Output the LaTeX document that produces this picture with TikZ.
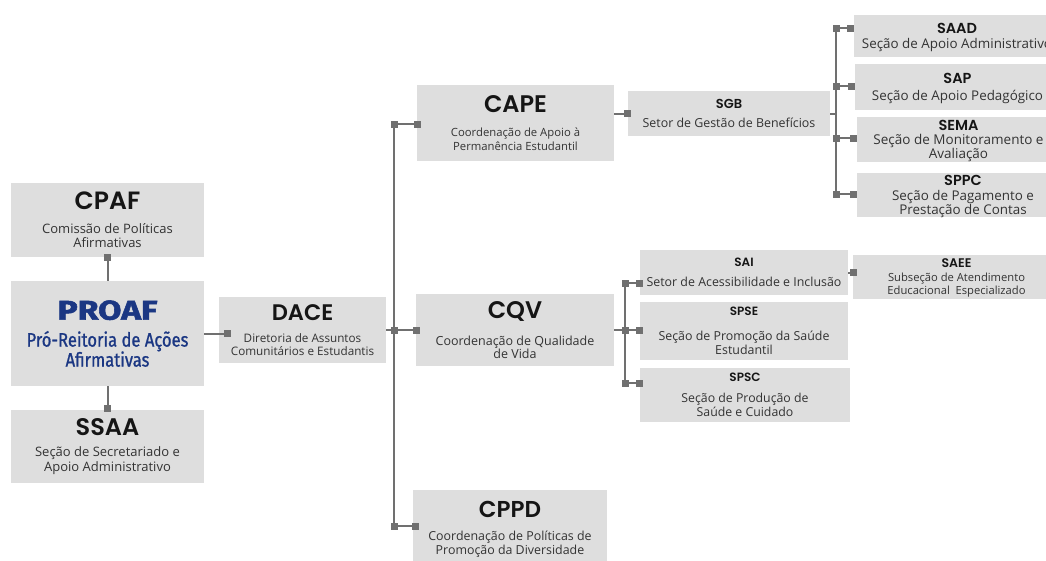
\documentclass[tikz,border=0pt]{standalone}
\usepackage{fontspec}
\usetikzlibrary{arrows.meta}
\newfontfamily\titlefont{Poppins}[UprightFont={* SemiBold}]
\newfontfamily\bodyfont{Open Sans}
\newfontfamily\proaffont{Fira Sans}[FakeStretch=0.85, FakeBold=1]
\newfontfamily\proafheavy{Fira Sans}[UprightFont={* Bold}, FakeStretch=1.25, FakeBold=2]
\definecolor{boxgray}{HTML}{DEDEDE}
\definecolor{linkgray}{HTML}{707070}
\definecolor{titleblack}{HTML}{151515}
\definecolor{bodygray}{HTML}{333333}
\definecolor{proafblue}{HTML}{1B3783}
\newcommand{\unitname}[2]{{\titlefont\fontsize{#1}{#1}\selectfont\color{titleblack}#2}}
\tikzset{
	unit/.style={fill=boxgray, inner sep=0pt, align=center, text=bodygray},
	body/.style 2 args={font=\bodyfont\fontsize{#1}{#2}\selectfont},
	link/.style={draw=linkgray, line width=2pt},
	>={Square[length=7pt,width=7pt]}
}
\begin{document}
\begin{tikzpicture}[x=1pt, y=-1pt]
	\useasboundingbox (0,0) rectangle (1046,560);
	\clip (0,0) rectangle (1046,560);

	\node[unit, body={13}{14}, text depth=-6pt, minimum width=193pt, minimum height=74pt] (cpaf) at (107.5,220) {\unitname{25}{CPAF}\\[10pt]Comissão de Políticas\\Afirmativas};
	\node[unit, text depth=-4pt, minimum width=193pt, minimum height=105pt, text=proafblue, font=\proaffont\fontsize{19.5}{20}\selectfont] (proaf) at (107.5,333.5) {{\proafheavy\fontsize{27}{27}\selectfont PROAF}\\[7pt]Pró-Reitoria de Ações\\Afirmativas};
	\node[unit, body={13}{15}, minimum width=193pt, minimum height=73pt] (ssaa) at (107.5,446.5) {\unitname{24}{SSAA}\\[5.5pt]Seção de Secretariado e\\Apoio Administrativo};
	\node[unit, body={11.7}{13}, minimum width=167pt, minimum height=66pt] (dace) at (302.5,330) {\unitname{22.5}{DACE}\\[8.5pt]Diretoria de Assuntos\\Comunitários e Estudantis};

	\node[unit, body={11.3}{14}, minimum width=197pt, minimum height=76pt] (cape) at (515.5,123) {\unitname{24}{CAPE}\\[9.5pt]Coordenação de Apoio à\\Permanência Estudantil};
	\node[unit, body={12.5}{13}, minimum width=198pt, minimum height=72pt] (cqv) at (515,330) {\unitname{24}{CQV}\\[13.5pt]Coordenação de Qualidade\\de Vida};
	\node[unit, body={12.4}{14}, minimum width=194pt, minimum height=79pt] (cppd) at (510,529.5) {\unitname{23}{CPPD}\\[8.5pt]Coordenação de Políticas de\\Promoção da Diversidade};

	\node[unit, body={12.4}{14}, minimum width=202pt, minimum height=45pt] (sgb) at (729,113.5) {\unitname{13}{SGB}\\[5pt]Setor de Gestão de Benefícios};
	\node[unit, body={13.4}{15}, text depth=-0.8pt, minimum width=206pt, minimum height=42pt] (saad) at (957,36) {\unitname{14.5}{SAAD}\\[0pt]Seção de Apoio Administrativo};
	\node[unit, body={13.4}{15}, text depth=-4.8pt, minimum width=205pt, minimum height=46pt] (sap) at (957.5,87) {\unitname{14.5}{SAP}\\[2pt]Seção de Apoio Pedagógico};
	\node[unit, body={13.5}{14}, text depth=-4.8pt, minimum width=203pt, minimum height=45pt] (sema) at (958.5,139.5) {\unitname{14.5}{SEMA}\\[0pt]Seção de Monitoramento e\\Avaliação};
	\node[unit, body={13.4}{14.5}, text depth=0.2pt, minimum width=212pt, minimum height=44pt] (sppc) at (963,195) {\unitname{14.5}{SPPC}\\[0pt]Seção de Pagamento e\\Prestação de Contas};

	\node[unit, body={12.4}{14}, minimum width=208pt, minimum height=45pt] (sai) at (744,272.5) {\unitname{12}{SAI}\\[6.5pt]Setor de Acessibilidade e Inclusão};
	\node[unit, body={12.4}{14}, minimum width=208pt, minimum height=58pt] (spse) at (744,331) {\unitname{12}{SPSE}\\[11pt]Seção de Promoção da Saúde\\Estudantil};
	\node[unit, body={12.3}{14}, text depth=-8pt, minimum width=210pt, minimum height=54pt] (spsc) at (745,395) {\unitname{12}{SPSC}\\[7pt]Seção de Produção de\\Saúde e Cuidado};
	\node[unit, body={11.2}{13}, text depth=-1.3pt, minimum width=207pt, minimum height=44pt] (saee) at (956.5,277) {\unitname{12.5}{SAEE}\\[1pt]Subseção de Atendimento\\Educacional~ Especializado};

	\coordinate (j1) at (394,124);
	\coordinate (j2) at (394,330);
	\coordinate (j3) at (394,526);
	\coordinate (k1) at (836,28);
	\coordinate (k2) at (836,86);
	\coordinate (k3) at (836,138);
	\coordinate (k4) at (836,194);
	\coordinate (m1) at (625,283);
	\coordinate (m2) at (625,330);
	\coordinate (m3) at (625,383);

	\draw [link, <-, shorten <=-3.5pt] (cpaf) -- (proaf);
	\draw [link, ->, shorten >=-2pt] (proaf) -- (ssaa);
	\draw [link, ->, shorten >=-12.5pt] (proaf.east) -- (proaf.east -| dace.west);
	\draw [link] (dace.east |- j2) -- (j2);

	\draw [link] (j1) -- (j3);
	\draw [link, <->, shorten <=-3.5pt, shorten >=-4pt] (j1) -- (j1 -| cape.west);
	\draw [link, <->, shorten <=-3.5pt, shorten >=-4pt] (j2) -- (j2 -| cqv.west);
	\draw [link, <->, shorten <=-3.5pt, shorten >=-6pt] (j3) -- (j3 -| cppd.west);

	\draw [link, ->, shorten >=-3.5pt] (cape.east |- sgb.west) -- (sgb.west);
	\draw [link] (k1) -- (k4);
	\draw [link] (sgb.east) -- (sgb.east -| k1);
	\draw [link, <->, shorten <=-3.5pt] (k1) -- (k1 -| saad.west);
	\draw [link, <->, shorten <=-3.5pt] (k2) -- (k2 -| sap.west);
	\draw [link, <->, shorten <=-3.5pt] (k3) -- (k3 -| sema.west);
	\draw [link, <->, shorten <=-3.5pt] (k4) -- (k4 -| sppc.west);

	\draw [link] (m1) -- (m3);
	\draw [link] (cqv.east |- m2) -- (m2);
	\draw [link, <->, shorten <=-3.5pt, shorten >=-3.5pt] (m1) -- (m1 -| sai.west);
	\draw [link, <->, shorten <=-3.5pt, shorten >=-3.5pt] (m2) -- (m2 -| spse.west);
	\draw [link, <->, shorten <=-3.5pt, shorten >=-3.5pt] (m3) -- (m3 -| spsc.west);
	\draw [link, ->, shorten >=-4pt] (sai.east) -- (sai.east -| saee.west);
\end{tikzpicture}
\end{document}
